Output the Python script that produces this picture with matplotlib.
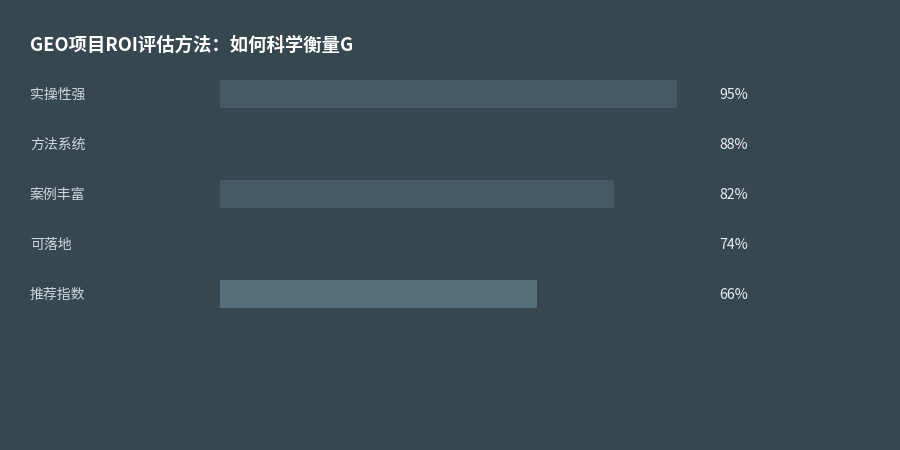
import matplotlib
matplotlib.use("Agg")
import matplotlib.pyplot as plt
from matplotlib.transforms import blended_transform_factory

plt.rcParams['font.family'] = ['Noto Sans CJK SC', 'DejaVu Sans']

title = "GEO项目ROI评估方法：如何科学衡量G"
categories = ["实操性强", "方法系统", "案例丰富", "可落地", "推荐指数"]
values = [95, 88, 82, 74, 66]
bar_colors = ["#465a66", "#37474f", "#465a66", "#37474f", "#566f7b"]

bg = "#37474f"
fig = plt.figure(figsize=(9, 4.5), dpi=100, facecolor=bg)
ax = fig.add_axes([220/900, 1-319/450, 481/900, 250/450])
ax.set_facecolor(bg)
ax.set_xlim(0, 100)
ax.set_ylim(len(categories)-0.5, -0.5)
ax.axis('off')

ypos = list(range(len(categories)))
ax.barh(ypos, values, height=28/50, color=bar_colors, linewidth=0)

tr = blended_transform_factory(fig.transFigure, ax.transData)
for i, (c, v) in enumerate(zip(categories, values)):
    ax.text(30/900, i + 0.02, c, transform=tr, ha='left', va='center',
            fontsize=10, color='#cfd8dc')
    ax.text(719.5/900, i + 0.02, f"{v}%", transform=tr, ha='left', va='center',
            fontsize=10.2, color='#eceff1')

fig.text(30/900, 1-45.5/450, title, ha='left', va='center', fontsize=13.2,
         fontweight='bold', color='#ffffff')

fig.savefig("out.png", dpi=100, facecolor=bg)
